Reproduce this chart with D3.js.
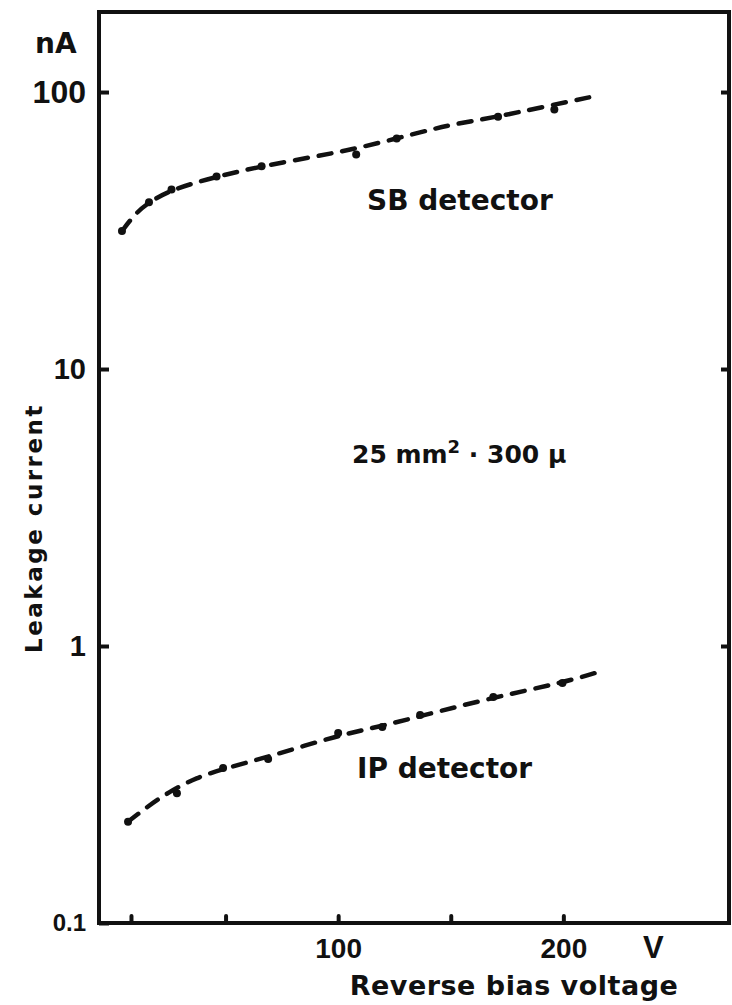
<!DOCTYPE html>
<html>
<head>
<meta charset="utf-8">
<script src="https://cdn.jsdelivr.net/npm/d3@7"></script>
<style>
  body { margin: 0; background: #fff; }
  .num { font-family: "Liberation Sans", Arial, sans-serif; font-weight: bold; fill: #111; }
  .lbl { font-family: "DejaVu Sans", sans-serif; font-weight: bold; fill: #111; }
</style>
</head>
<body>
<div id="chart"></div>
<script>
// Leakage current vs reverse bias voltage (log scale), SB and IP detectors

// SB detector: points along the dashed curve [V, nA]
const sbCurve = [
  [4, 31.5], [10, 36.5], [16, 40], [26, 44.5], [46, 49.5], [66, 54],
  [90, 58.5], [108, 62.5], [126, 68], [142, 73.5], [153, 77], [171, 81.5],
  [190, 88], [215, 97]
];
// SB detector: measured points (dots)
const sbPoints = [
  [4, 31.5], [16, 40], [26, 44.5], [46, 49.5], [66, 54], [108, 59.5],
  [126, 68], [171, 81.5], [196, 86.5]
];

// IP detector: points along the dashed curve [V, nA]
const ipCurve = [
  [6.7, 0.232], [15, 0.262], [25, 0.298], [37, 0.335], [50, 0.362],
  [70, 0.4], [100, 0.476], [120, 0.515], [137, 0.56], [169, 0.652],
  [200, 0.738], [217, 0.812]
];
// IP detector: measured points (dots)
const ipPoints = [
  [6.7, 0.232], [28.4, 0.294], [48.9, 0.363], [68.9, 0.391], [100, 0.485],
  [119.6, 0.51], [136.4, 0.564], [168.9, 0.655], [199.6, 0.735]
];

// Axis ticks and labels
const yTicks = [0.1, 1, 10, 100];
const xTicks = [8, 50, 100, 150, 200];
const xLabelled = [100, 200];

// Chart dimensions
const margin = { top: 12, right: 2, bottom: 82, left: 99 };
const width = 732 - margin.left - margin.right;
const height = 1005 - margin.top - margin.bottom;

const svg = d3
  .select("#chart")
  .append("svg")
  .attr("width", 732)
  .attr("height", 1005)
  .append("g")
  .attr("transform", `translate(${margin.left},${margin.top})`);

// Scales
const xScale = d3.scaleLinear().domain([-6.2, 274]).range([0, width]);
const yScale = d3.scaleLog().domain([0.1, 194.5]).range([height, 0]);

// Left axis (ticks point inward)
const yAxis = d3
  .axisLeft(yScale)
  .tickValues(yTicks)
  .tickSizeInner(-10)
  .tickSizeOuter(0)
  .tickPadding(13)
  .tickFormat((d) => (d < 1 ? "0.1" : d));

const gy = svg.append("g").attr("class", "y-axis").call(yAxis);
gy.select(".domain").remove();
gy.selectAll("line").attr("stroke", "#111").attr("stroke-width", 4);
gy.selectAll("text")
  .attr("class", "num")
  .style("font-size", (d) => (d < 1 ? "24px" : d === 100 ? "32px" : "29px"));

// Right axis ticks (no labels)
const yAxisRight = d3
  .axisRight(yScale)
  .tickValues([1, 10, 100])
  .tickSizeInner(-8)
  .tickSizeOuter(0)
  .tickFormat("");
const gr = svg
  .append("g")
  .attr("transform", `translate(${width - 1},0)`)
  .call(yAxisRight);
gr.select(".domain").remove();
gr.selectAll("line").attr("stroke", "#111").attr("stroke-width", 4);

// Bottom axis
const xAxis = d3
  .axisBottom(xScale)
  .tickValues(xTicks)
  .tickSizeInner(-7)
  .tickSizeOuter(0)
  .tickPadding(15)
  .tickFormat((d) => (xLabelled.includes(d) ? d : ""));

const gx = svg
  .append("g")
  .attr("class", "x-axis")
  .attr("transform", `translate(0,${height})`)
  .call(xAxis);
gx.select(".domain").remove();
gx.selectAll("line")
  .attr("stroke", "#111")
  .attr("stroke-width", 4)
  .attr("stroke-linecap", "round");
gx.selectAll("text").attr("class", "num").style("font-size", "28px");

// Frame
svg
  .append("rect")
  .attr("x", 0)
  .attr("y", 0)
  .attr("width", width - 1)
  .attr("height", height)
  .attr("fill", "none")
  .attr("stroke", "#111")
  .attr("stroke-width", 4);

// Unit labels
svg
  .append("text")
  .attr("class", "lbl")
  .attr("x", 35 - margin.left)
  .attr("y", 53 - margin.top)
  .style("font-size", "28px")
  .text("nA");

svg
  .append("text")
  .attr("class", "num")
  .attr("x", xScale(240))
  .attr("y", height + 35)
  .attr("text-anchor", "middle")
  .style("font-size", "31px")
  .text("V");

// Axis titles
svg
  .append("text")
  .attr("class", "lbl")
  .attr("x", 514 - margin.left)
  .attr("y", height + 72)
  .attr("text-anchor", "middle")
  .style("font-size", "27px")
  .style("letter-spacing", "0.5px")
  .text("Reverse bias voltage");

svg
  .append("text")
  .attr("class", "lbl")
  .attr("transform", `translate(${42 - margin.left},${528 - margin.top}) rotate(-90)`)
  .attr("text-anchor", "middle")
  .style("font-size", "23px")
  .style("letter-spacing", "2.5px")
  .text("Leakage current");

// Curves (smoothed)
const line = d3
  .line()
  .x((d) => xScale(d[0]))
  .y((d) => yScale(d[1]))
  .curve(d3.curveBasis);

[sbCurve, ipCurve].forEach((data) => {
  svg
    .append("path")
    .datum(data)
    .attr("d", line)
    .attr("fill", "none")
    .attr("stroke", "#111")
    .attr("stroke-width", 4.5)
    .attr("stroke-linecap", "round")
    .attr("stroke-dasharray", "13 11");
});

// Measured points
[sbPoints, ipPoints].forEach((data) => {
  svg
    .append("g")
    .selectAll("circle")
    .data(data)
    .enter()
    .append("circle")
    .attr("cx", (d) => xScale(d[0]))
    .attr("cy", (d) => yScale(d[1]))
    .attr("r", 4)
    .attr("fill", "#111");
});

// Annotations
svg
  .append("text")
  .attr("class", "lbl")
  .attr("x", 367 - margin.left)
  .attr("y", 210 - margin.top)
  .style("font-size", "28px")
  .text("SB detector");

svg
  .append("text")
  .attr("class", "lbl")
  .attr("x", 357 - margin.left)
  .attr("y", 778 - margin.top)
  .style("font-size", "28px")
  .text("IP detector");

const spec = svg
  .append("text")
  .attr("class", "lbl")
  .attr("x", 352 - margin.left)
  .attr("y", 463 - margin.top)
  .style("font-size", "25px");
spec.append("tspan").text("25 mm");
spec.append("tspan").attr("dy", -10).style("font-size", "18px").text("2");
spec.append("tspan").attr("dy", 10).text(" · 300 μ");
</script>
</body>
</html>
